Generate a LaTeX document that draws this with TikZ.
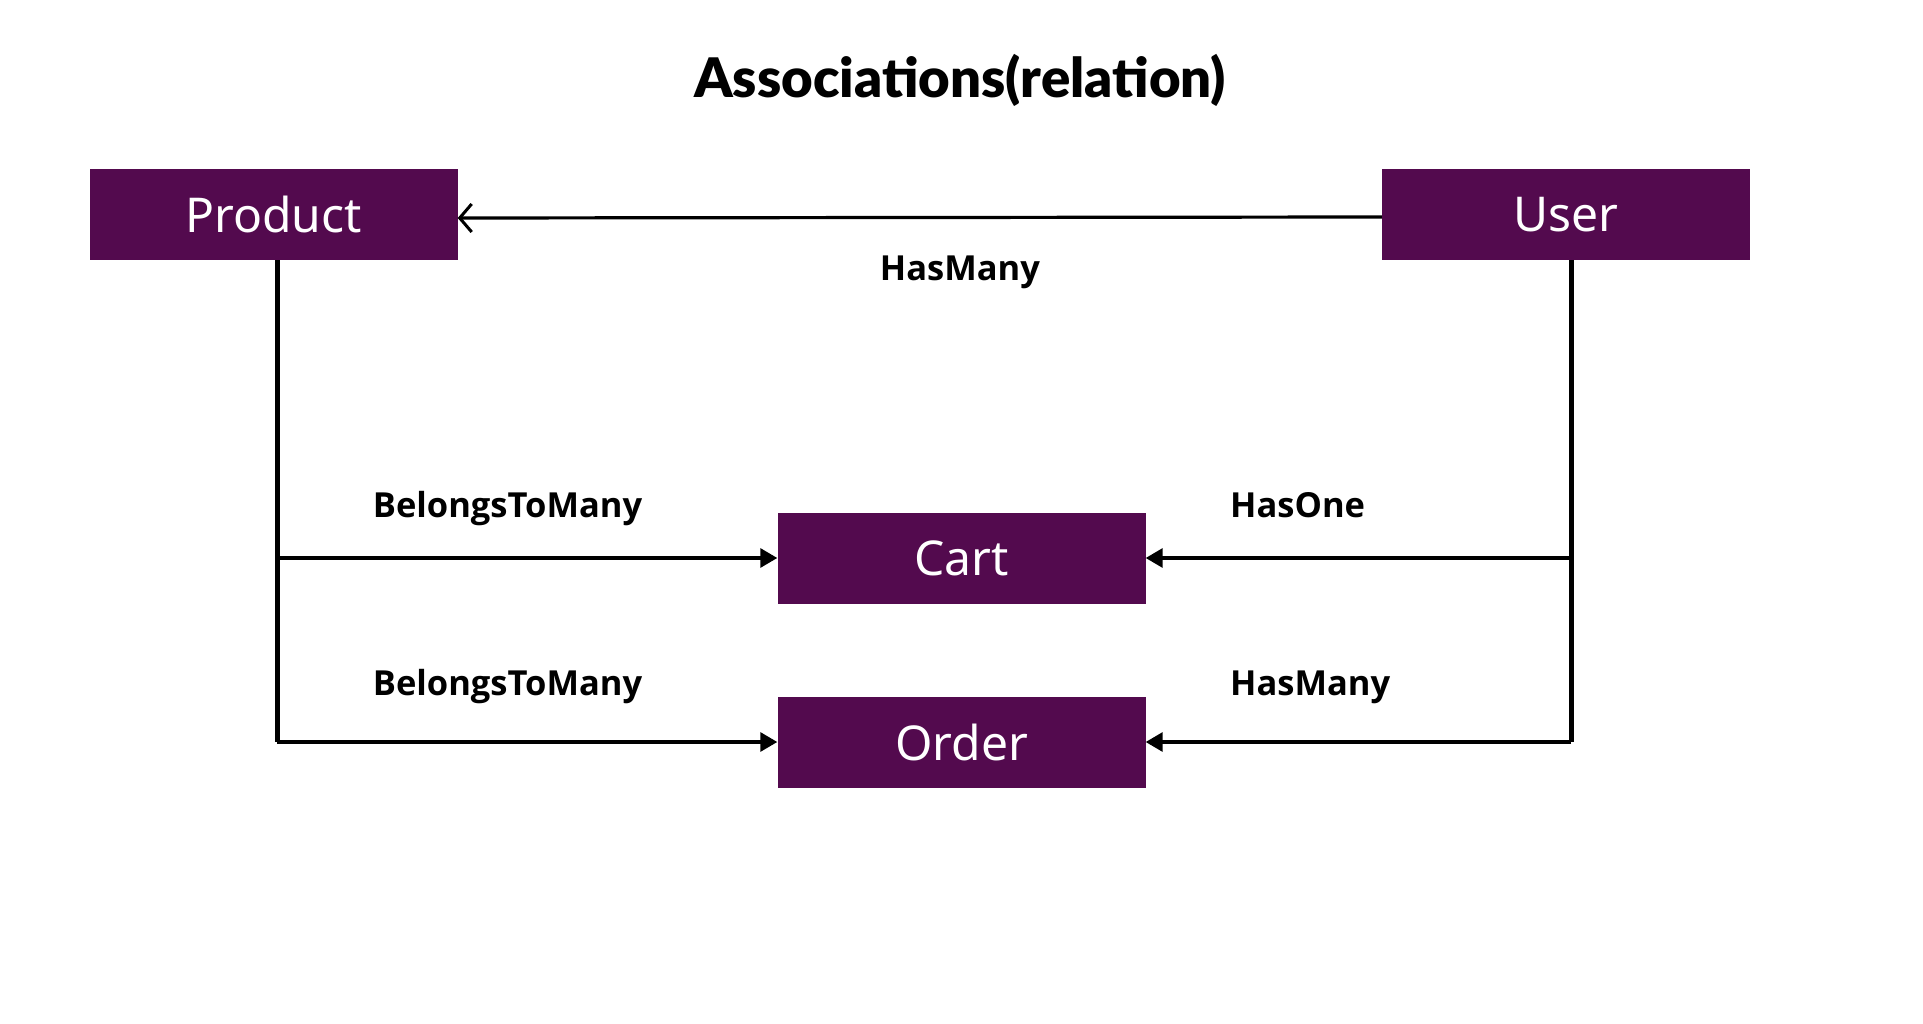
\documentclass[tikz,border=0pt]{standalone}
\usepackage{fontspec}
\setmainfont{Noto Sans}
\newfontfamily\titlefont{Lato Black}
\newfontfamily\labelfont{Open Sans}
\usetikzlibrary{arrows.meta}
\definecolor{boxpurple}{HTML}{530A4E}
\tikzset{
  entity/.style={fill=boxpurple, text=white, minimum width=368pt, minimum height=91pt, inner sep=0pt, font=\fontsize{48}{52}\selectfont},
  rel/.style={font=\labelfont\bfseries\fontsize{34.5}{38}\selectfont, text=black, inner sep=0pt, text height=0.75em, text depth=0.25em},
  vline/.style={line width=5pt, black},
  hline/.style={line width=3.2pt, black},
  filledtip/.style={-{Triangle[length=17pt,width=19pt]}},
  opentip/.style={-{Straight Barb[length=12pt,width=28pt,line width=3pt]}}
}
\begin{document}
\begin{tikzpicture}[x={(1pt,0)}, y={(0,-1pt)}]
\useasboundingbox[fill=white] (0,0) rectangle (1923,1024);
\node[font=\titlefont\fontsize{54.5}{58}\selectfont, inner sep=0pt] (title) at (960,80) {Associations(relation)};
\node[entity] (Product) at (273.5,214.5) {Product};
\node[entity] (User) at (1566,214.5) {User};
\node[entity] (Cart) at (961.5,558) {Cart};
\node[entity] (Order) at (961.5,742) {Order};
\coordinate (pv) at (277,742);
\coordinate (uv) at (1571,742);
\draw[hline, opentip] ([yshift=-2.5pt]User.west) -- ([yshift=-3.5pt]Product.east);
\node[rel] (lhm) at (960,278) {HasMany};
\draw[vline] (Product.south -| pv) -- (pv);
\draw[hline, filledtip] (pv) -- (Order.west);
\draw[hline, filledtip] (pv |- Cart.west) -- (Cart.west);
\draw[vline] (User.south -| uv) -- (uv);
\draw[hline, filledtip] (uv) -- (Order.east);
\draw[hline, filledtip] (uv |- Cart.east) -- (Cart.east);
\node[rel] (lb1) at (507.5,515) {BelongsToMany};
\node[rel] (lb2) at (507.5,693) {BelongsToMany};
\node[rel, anchor=west] (lho) at (1230,515) {HasOne};
\node[rel, anchor=west] (lhm2) at (1230,693) {HasMany};
\end{tikzpicture}
\end{document}
